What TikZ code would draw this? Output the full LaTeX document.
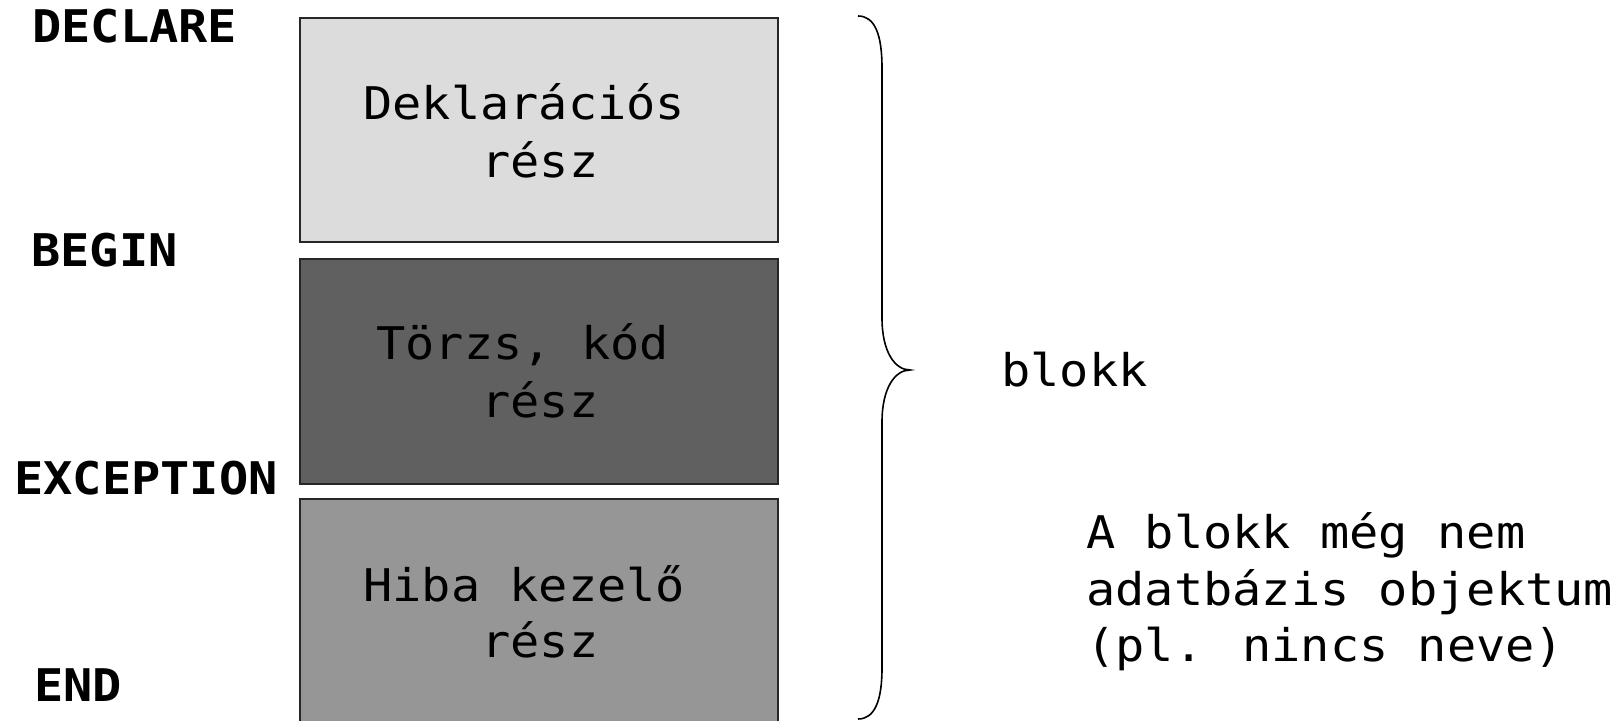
\documentclass[tikz,border=0pt]{standalone}
\usepackage{fontspec}
\newfontfamily\monof[FakeStretch=1.08]{DejaVu Sans Mono}
\begin{document}
\begin{tikzpicture}[x=0.5pt,y=-0.5pt,
  part/.style={draw=black!85,line width=1pt,minimum width=239pt,minimum height=112pt,inner sep=0pt,anchor=north west},
  kw/.style={anchor=base west,inner sep=0pt,font=\monof\fontsize{22.5}{27}\selectfont\bfseries},
  txt/.style={anchor=base west,inner sep=0pt,font=\monof\fontsize{22.5}{27}\selectfont}]
  \definecolor{declfill}{HTML}{DCDCDC}
  \definecolor{bodyfill}{HTML}{606060}
  \definecolor{excfill}{HTML}{969696}
  \useasboundingbox[fill=white] (0,0) rectangle (1621,721);
  % the three parts of a block
  \begin{scope}
    \clip (0,0) rectangle (1621,721);
    \node[part,fill=declfill] (decl) at (299,17.5) {};
    \node[part,fill=bodyfill] (body) at (299,258.5) {};
    \node[part,fill=excfill,minimum height=116pt] (exc) at (299,498) {};
  \end{scope}
  % keywords on the left
  \node[kw] (kdeclare) at (32,43) {DECLARE};
  \node[kw] (kbegin) at (31,266.5) {BEGIN};
  \node[kw] (kexc) at (14,494) {EXCEPTION};
  \node[kw] (kend) at (34,701) {END};
  % labels inside the parts
  \node[txt] (t1a) at (363,120) {Deklarációs};
  \node[txt] (t1b) at (481,178) {rész};
  \node[txt] (t2a) at (376,359) {Törzs, kód};
  \node[txt] (t2b) at (481,417.5) {rész};
  \node[txt] (t3a) at (363,601.5) {Hiba kezelő};
  \node[txt] (t3b) at (481,657.5) {rész};
  % brace around the whole block
  \draw[line width=0.8pt,black]
    (858,16) .. controls (875,16) and (882,35) .. (882,68) -- (882,318)
    .. controls (882,352) and (895,370) .. (910,370)
    .. controls (895,370) and (882,388) .. (882,422) -- (882,668)
    .. controls (882,700) and (875,719) .. (858,719);
  \node[txt] (blokk) at (1001,386.5) {blokk};
  \node[txt] (n1) at (1086,548) {A blokk még nem};
  \node[txt] (n2) at (1086,605) {adatbázis objektum};
  \node[txt] (n3) at (1086,661.5) {(pl. nincs neve)};
\end{tikzpicture}
\end{document}
